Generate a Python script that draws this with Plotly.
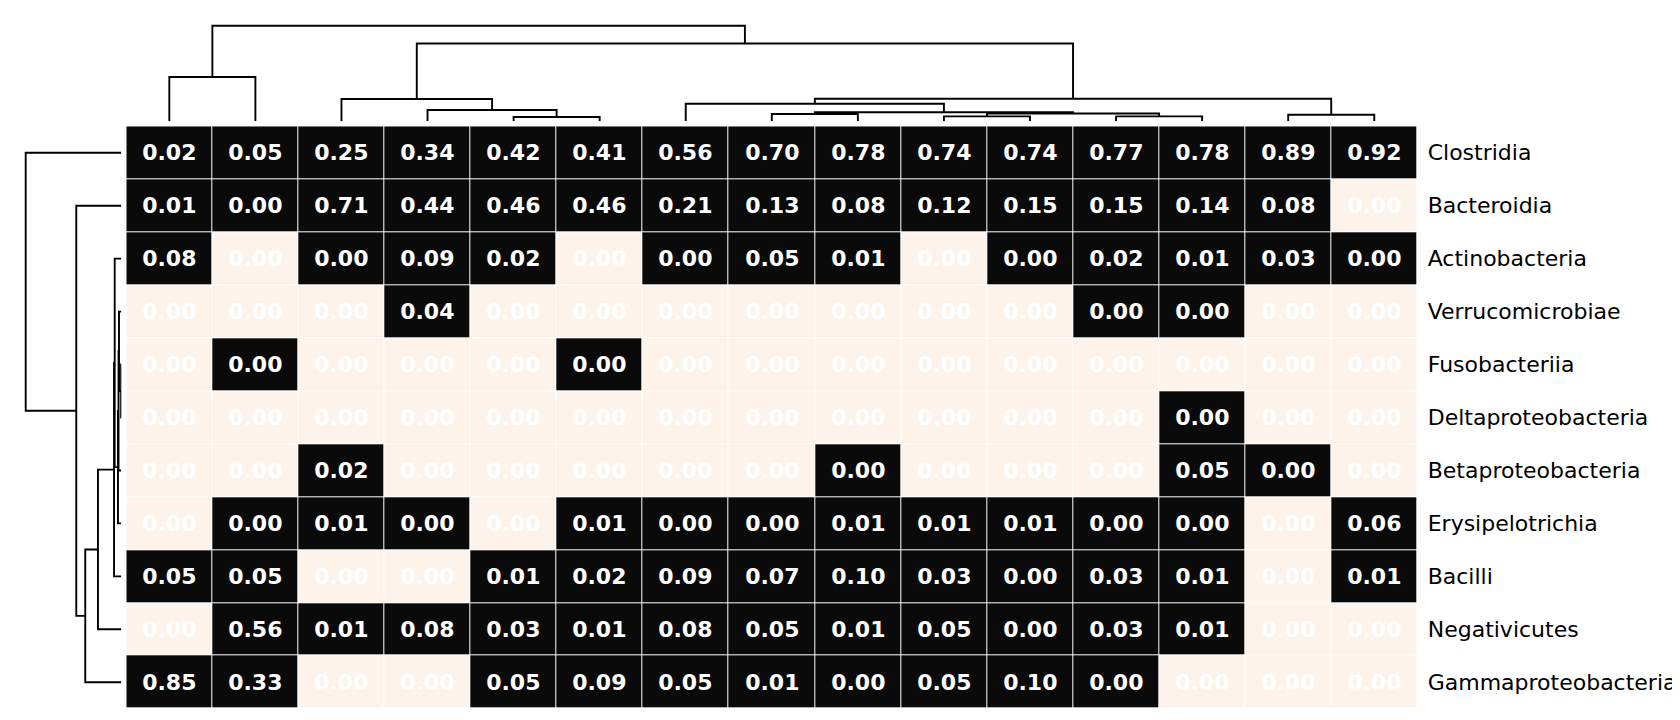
import plotly.graph_objects as go

# ---------------- data ----------------
row_labels = ["Clostridia", "Bacteroidia", "Actinobacteria", "Verrucomicrobiae",
              "Fusobacteriia", "Deltaproteobacteria", "Betaproteobacteria",
              "Erysipelotrichia", "Bacilli", "Negativicutes", "Gammaproteobacteria"]

# relative abundances (columns in dendrogram order); 0.001 = present but < 0.005 (shown as "0.00" on black)
clostridia = [0.02, 0.05, 0.25, 0.34, 0.42, 0.41, 0.56, 0.70, 0.78, 0.74, 0.74, 0.77, 0.78, 0.89, 0.92]
bacteroidia = [0.01, 0.001, 0.71, 0.44, 0.46, 0.46, 0.21, 0.13, 0.08, 0.12, 0.15, 0.15, 0.14, 0.08, 0]
actinobacteria = [0.08, 0, 0.001, 0.09, 0.02, 0, 0.001, 0.05, 0.01, 0, 0.001, 0.02, 0.01, 0.03, 0.001]
verrucomicrobiae = [0, 0, 0, 0.04, 0, 0, 0, 0, 0, 0, 0, 0.001, 0.001, 0, 0]
fusobacteriia = [0, 0.001, 0, 0, 0, 0.001, 0, 0, 0, 0, 0, 0, 0, 0, 0]
deltaproteobacteria = [0, 0, 0, 0, 0, 0, 0, 0, 0, 0, 0, 0, 0.001, 0, 0]
betaproteobacteria = [0, 0, 0.02, 0, 0, 0, 0, 0, 0.001, 0, 0, 0, 0.05, 0.001, 0]
erysipelotrichia = [0, 0.001, 0.01, 0.001, 0, 0.01, 0.001, 0.001, 0.01, 0.01, 0.01, 0.001, 0.001, 0, 0.06]
bacilli = [0.05, 0.05, 0, 0, 0.01, 0.02, 0.09, 0.07, 0.10, 0.03, 0.001, 0.03, 0.01, 0, 0.01]
negativicutes = [0, 0.56, 0.01, 0.08, 0.03, 0.01, 0.08, 0.05, 0.01, 0.05, 0.001, 0.03, 0.01, 0, 0]
gammaproteobacteria = [0.85, 0.33, 0, 0, 0.05, 0.09, 0.05, 0.01, 0.001, 0.05, 0.10, 0.001, 0, 0, 0]

values = [clostridia, bacteroidia, actinobacteria, verrucomicrobiae, fusobacteriia,
          deltaproteobacteria, betaproteobacteria, erysipelotrichia, bacilli,
          negativicutes, gammaproteobacteria]

# linkage: (child_a, child_b, merge height relative to root); ids >= n are earlier merges
col_linkage = [
    (4, 5, 0.045), (3, 15, 0.118), (2, 16, 0.233),
    (7, 8, 0.076), (9, 10, 0.052), (11, 12, 0.052), (19, 20, 0.082),
    (18, 21, 0.094), (6, 22, 0.184), (13, 14, 0.069), (23, 24, 0.236),
    (17, 25, 0.814), (0, 1, 0.463), (27, 26, 1.0),
]
row_linkage = [
    (4, 5, 0.002), (3, 11, 0.024), (12, 6, 0.029), (13, 7, 0.035),
    (2, 14, 0.069), (15, 8, 0.076), (16, 9, 0.244), (17, 10, 0.377),
    (1, 18, 0.471), (0, 19, 1.0),
]

n_rows = len(row_labels)
n_cols = len(clostridia)


def dendro_lines(n, links):
    pos = {i: float(i) for i in range(n)}
    hgt = {i: 0.0 for i in range(n)}
    ps, hs = [], []
    for k, (a, b, h) in enumerate(links):
        pa, pb = pos[a], pos[b]
        ps += [pa, pa, pb, pb, None]
        hs += [hgt[a], h, h, hgt[b], None]
        pos[n + k] = (pa + pb) / 2
        hgt[n + k] = h
    return ps, hs


W, H = 1680, 720
hm_x0, hm_x1 = 118.3 / W, 1409.3 / W
hm_y0, hm_y1 = 1 - 700.7 / H, 1 - 118.3 / H
dend_edge = 113.3
dend_range = dend_edge / 95.6

CREAM = "#fdf3eb"
BLACK = "#0a0a0a"
FONT = "DejaVu Sans"

fig = go.Figure()

fig.add_trace(go.Heatmap(
    z=values, x=list(range(n_cols)), y=list(range(n_rows)),
    zmin=0, zmax=1,
    colorscale=[[0, CREAM], [0.0005, CREAM], [0.0005, BLACK], [1, BLACK]],
    showscale=False, xgap=1, ygap=1,
    texttemplate="%{z:.2f}",
    textfont=dict(family=FONT, size=22, color="white", weight="bold"),
    hoverinfo="skip",
    xaxis="x", yaxis="y",
))

cx, ch = dendro_lines(n_cols, col_linkage)
fig.add_trace(go.Scatter(x=cx, y=ch, mode="lines", line=dict(color="black", width=1.9),
                         xaxis="x2", yaxis="y2", hoverinfo="skip", showlegend=False))

ry, rh = dendro_lines(n_rows, row_linkage)
fig.add_trace(go.Scatter(x=rh, y=ry, mode="lines", line=dict(color="black", width=1.9),
                         xaxis="x3", yaxis="y3", hoverinfo="skip", showlegend=False))

hidden = dict(showgrid=False, zeroline=False, showline=False, showticklabels=False, ticks="")

fig.update_layout(
    width=W, height=H,
    margin=dict(l=0, r=0, t=0, b=0),
    paper_bgcolor="white", plot_bgcolor="white",
    showlegend=False,
    font=dict(family=FONT, color="black"),
    xaxis=dict(domain=[hm_x0, hm_x1], range=[-0.5, n_cols - 0.5], **hidden),
    yaxis=dict(domain=[hm_y0, hm_y1], range=[n_rows - 0.5, -0.5], side="right",
               tickvals=list(range(n_rows)), ticktext=row_labels,
               tickfont=dict(family=FONT, size=22, color="black"),
               ticks="outside", ticklen=5, tickcolor="rgba(0,0,0,0)",
               showgrid=False, zeroline=False, showline=False, automargin=False),
    xaxis2=dict(domain=[hm_x0, hm_x1], range=[-0.5, n_cols - 0.5], anchor="y2", **hidden),
    yaxis2=dict(domain=[1 - dend_edge / H, 1.0], range=[0, dend_range], anchor="x2", **hidden),
    xaxis3=dict(domain=[0, dend_edge / W], range=[dend_range, 0], anchor="y3", **hidden),
    yaxis3=dict(domain=[hm_y0, hm_y1], range=[n_rows - 0.5, -0.5], anchor="x3", **hidden),
)

fig.write_html("out.html")
